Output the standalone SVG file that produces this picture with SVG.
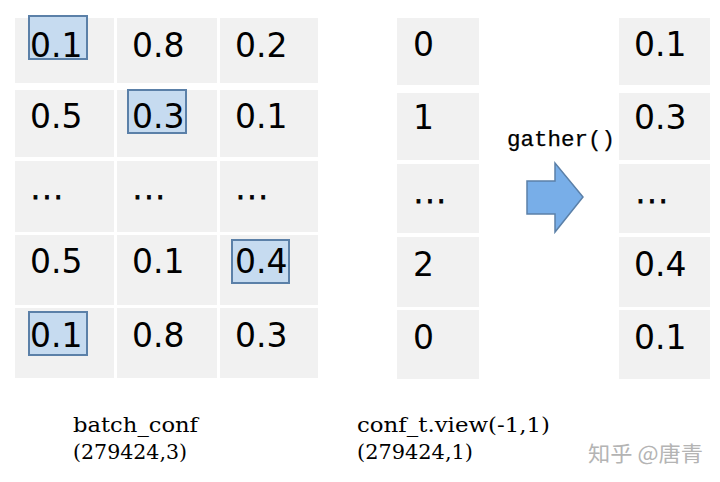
<svg xmlns="http://www.w3.org/2000/svg" width="720" height="482" viewBox="0 0 720 482">
<style>
.cell{fill:#f1f1f1}
.hl{fill:#c6dbf0;stroke:#5b80a8;stroke-width:2}
.v{font-family:"DejaVu Sans",sans-serif;font-size:33px;fill:#000}
.dots{font-family:"DejaVu Sans",sans-serif;font-size:28px;fill:#000;stroke:#000;stroke-width:0.8;letter-spacing:2.5px}
.lbl{font-family:"DejaVu Serif","Liberation Serif",serif;font-size:21px;fill:#000}
.mono{font-family:"Liberation Mono","DejaVu Sans Mono",monospace;font-size:22px;fill:#000;stroke:#000;stroke-width:0.25}
.wm{font-family:"Noto Sans CJK SC",sans-serif;font-size:21px;fill:#b4b4b4}
</style>
<rect width="720" height="482" fill="#fff"/>
<g id="batch_conf">
<rect class="cell" x="15" y="18" width="99" height="65"/>
<rect class="cell" x="117" y="18" width="100" height="65"/>
<rect class="cell" x="220" y="18" width="98" height="65"/>
<rect class="cell" x="15" y="90" width="99" height="67"/>
<rect class="cell" x="117" y="90" width="100" height="67"/>
<rect class="cell" x="220" y="90" width="98" height="67"/>
<rect class="cell" x="15" y="161" width="99" height="71"/>
<rect class="cell" x="117" y="161" width="100" height="71"/>
<rect class="cell" x="220" y="161" width="98" height="71"/>
<rect class="cell" x="15" y="235" width="99" height="70"/>
<rect class="cell" x="117" y="235" width="100" height="70"/>
<rect class="cell" x="220" y="235" width="98" height="70"/>
<rect class="cell" x="15" y="308" width="99" height="70"/>
<rect class="cell" x="117" y="308" width="100" height="70"/>
<rect class="cell" x="220" y="308" width="98" height="70"/>
<rect class="hl" x="29" y="16" width="58" height="43"/>
<rect class="hl" x="128" y="90" width="58" height="43"/>
<rect class="hl" x="232" y="240" width="57" height="43"/>
<rect class="hl" x="29" y="312" width="58" height="43"/>
<text class="v" x="30" y="57">0.1</text>
<text class="v" x="132" y="57">0.8</text>
<text class="v" x="235" y="57">0.2</text>
<text class="v" x="30" y="128">0.5</text>
<text class="v" x="132" y="128">0.3</text>
<text class="v" x="235" y="128">0.1</text>
<text class="dots" x="31" y="199">...</text>
<text class="dots" x="133" y="199">...</text>
<text class="dots" x="236" y="199">...</text>
<text class="v" x="30" y="273">0.5</text>
<text class="v" x="132" y="273">0.1</text>
<text class="v" x="235" y="273">0.4</text>
<text class="v" x="30" y="347">0.1</text>
<text class="v" x="132" y="347">0.8</text>
<text class="v" x="235" y="347">0.3</text>
</g>
<g id="conf_t">
<rect class="cell" x="397" y="18" width="82" height="67"/>
<rect class="cell" x="397" y="93" width="82" height="67"/>
<rect class="cell" x="397" y="164" width="82" height="69"/>
<rect class="cell" x="397" y="237" width="82" height="70"/>
<rect class="cell" x="397" y="310" width="82" height="69"/>
<text class="v" x="413" y="56">0</text>
<text class="v" x="413" y="129">1</text>
<text class="dots" x="414" y="203">...</text>
<text class="v" x="413" y="276">2</text>
<text class="v" x="413" y="349">0</text>
</g>
<g id="result">
<rect class="cell" x="619" y="18" width="91" height="67"/>
<rect class="cell" x="619" y="93" width="91" height="67"/>
<rect class="cell" x="619" y="164" width="91" height="69"/>
<rect class="cell" x="619" y="237" width="91" height="70"/>
<rect class="cell" x="619" y="310" width="91" height="69"/>
<text class="v" x="634" y="56">0.1</text>
<text class="v" x="634" y="129">0.3</text>
<text class="dots" x="636" y="203">...</text>
<text class="v" x="634" y="276">0.4</text>
<text class="v" x="634" y="349">0.1</text>
</g>
<g id="connectors">
<polygon points="527,181 555,181 555,163 583,197 555,232 555,214 527,214" fill="#78aee8" stroke="#5b80a8" stroke-width="1.5" stroke-linejoin="miter"/>
<text class="mono" x="507" y="146" textLength="108" lengthAdjust="spacingAndGlyphs">gather()</text>
</g>
<g id="labels">
<text class="lbl" x="73" y="432" textLength="125" lengthAdjust="spacingAndGlyphs">batch_conf</text>
<text class="lbl" x="73" y="459" textLength="114" lengthAdjust="spacingAndGlyphs">(279424,3)</text>
<text class="lbl" x="357" y="432" textLength="193" lengthAdjust="spacingAndGlyphs">conf_t.view(-1,1)</text>
<text class="lbl" x="357" y="459" textLength="116" lengthAdjust="spacingAndGlyphs">(279424,1)</text>
<text class="wm" x="588" y="461" textLength="115" lengthAdjust="spacingAndGlyphs">知乎 @唐青</text>
</g>
</svg>
